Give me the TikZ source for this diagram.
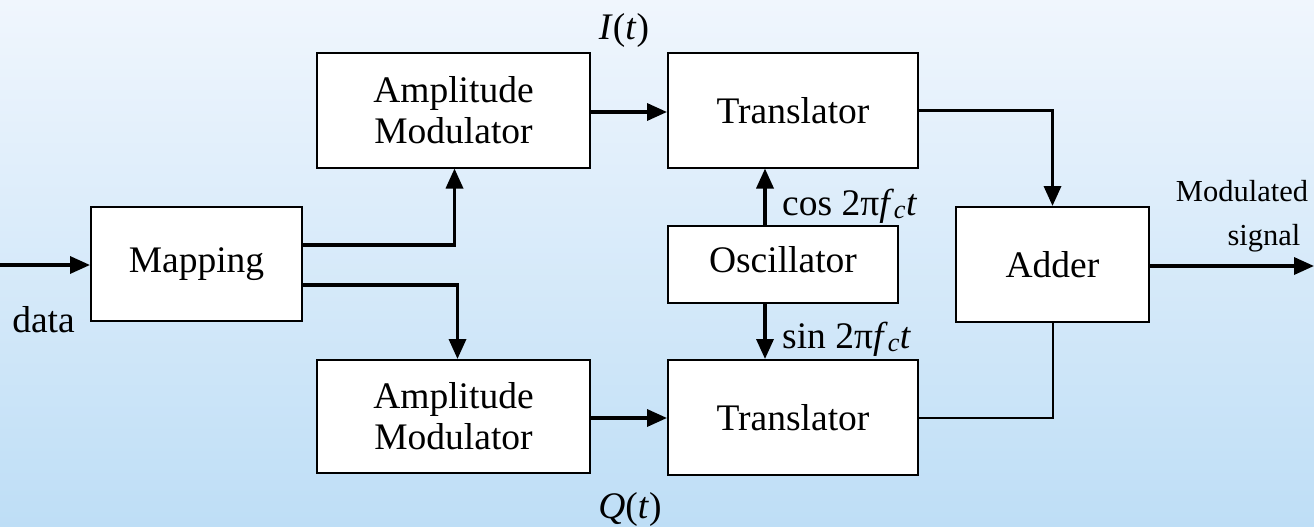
\documentclass[tikz,border=0pt]{standalone}
\usepackage{fontspec}
\setmainfont{Liberation Serif}
\usetikzlibrary{arrows.meta}
\definecolor{bgtop}{RGB}{240,246,253}
\definecolor{bgbot}{RGB}{190,222,246}
\begin{document}
\begin{tikzpicture}[x=1pt,y=-1pt,
  blk/.style={draw=black,fill=white,line width=2pt,inner sep=0pt,align=center,
    font=\fontsize{37.5}{41}\selectfont},
  lbl/.style={inner sep=0pt,font=\fontsize{37.5}{39}\selectfont},
  smalllbl/.style={inner sep=0pt,font=\fontsize{30.5}{32}\selectfont},
  arr/.style={line width=3.4pt,-{Triangle[length=20pt,width=17pt]}},
  wire/.style={line width=2pt}]
\useasboundingbox (0,0) rectangle (1314,527);
\shade[top color=bgtop,bottom color=bgbot] (0,0) rectangle (1314,527);
% blocks
\node[blk,minimum width=211pt,minimum height=114pt] (map) at (196.5,264) {Mapping};
\node[blk,minimum width=273pt,minimum height=114pt] (am1) at (453.5,110.5) {Amplitude\\Modulator};
\node[blk,minimum width=273pt,minimum height=113pt] (am2) at (453.5,416.5) {Amplitude\\Modulator};
\node[blk,minimum width=250pt,minimum height=114pt] (tr1) at (793,110.5) {\raisebox{-5pt}{Translator}};
\node[blk,minimum width=250pt,minimum height=115pt] (tr2) at (793,417.5) {\raisebox{-2pt}{Translator}};
\node[blk,minimum width=230pt,minimum height=77pt] (osc) at (783,264.5) {\raisebox{10pt}{Oscillator}};
\node[blk,minimum width=193pt,minimum height=115pt] (add) at (1052.5,264.5) {Adder};
% labels
\node[lbl,anchor=base] (it) at (624,40) {\textit{I}(\textit{t})};
\node[lbl,anchor=base] (qt) at (630,518) {\textit{Q}(\textit{t})};
\node[lbl,anchor=base] (data) at (43.5,332) {data};
\node[lbl,anchor=base west] (cosl) at (782,215) {cos 2π\textit{f}\textsubscript{\textit{c}}\textit{t}};
\node[lbl,anchor=base west] (sinl) at (782,348) {sin 2π\textit{f}\textsubscript{\textit{c}}\textit{t}};
\node[smalllbl,anchor=base] (modl) at (1242,201) {Modulated};
\node[smalllbl,anchor=base] (sigl) at (1264,245) {signal};
% connectors
\coordinate (in) at (0,265);
\coordinate (out) at (1314,266);
\draw[arr] (in) -- (in -| map.west);
\draw[arr] ([yshift=19pt]map.east) -| ([xshift=1pt]am1.south);
\draw[arr] ([yshift=-21pt]map.east) -| ([xshift=4pt]am2.north);
\draw[arr] ([yshift=-1.5pt]am1.east) -- ([yshift=-1.5pt]am1.east -| tr1.west);
\draw[arr] ([yshift=-1.5pt]am2.east) -- ([yshift=-1.5pt]am2.east -| tr2.west);
\draw[arr] ([xshift=-18pt]osc.north) -- ([xshift=-18pt]osc.north |- tr1.south);
\draw[arr] ([xshift=-18pt]osc.south) -- ([xshift=-18pt]osc.south |- tr2.north);
\draw[arr] (tr1.east) -| (add.north);
\draw[wire] (tr2.east) -| (add.south);
\draw[arr] (add.east |- out) -- (out);
\end{tikzpicture}
\end{document}
